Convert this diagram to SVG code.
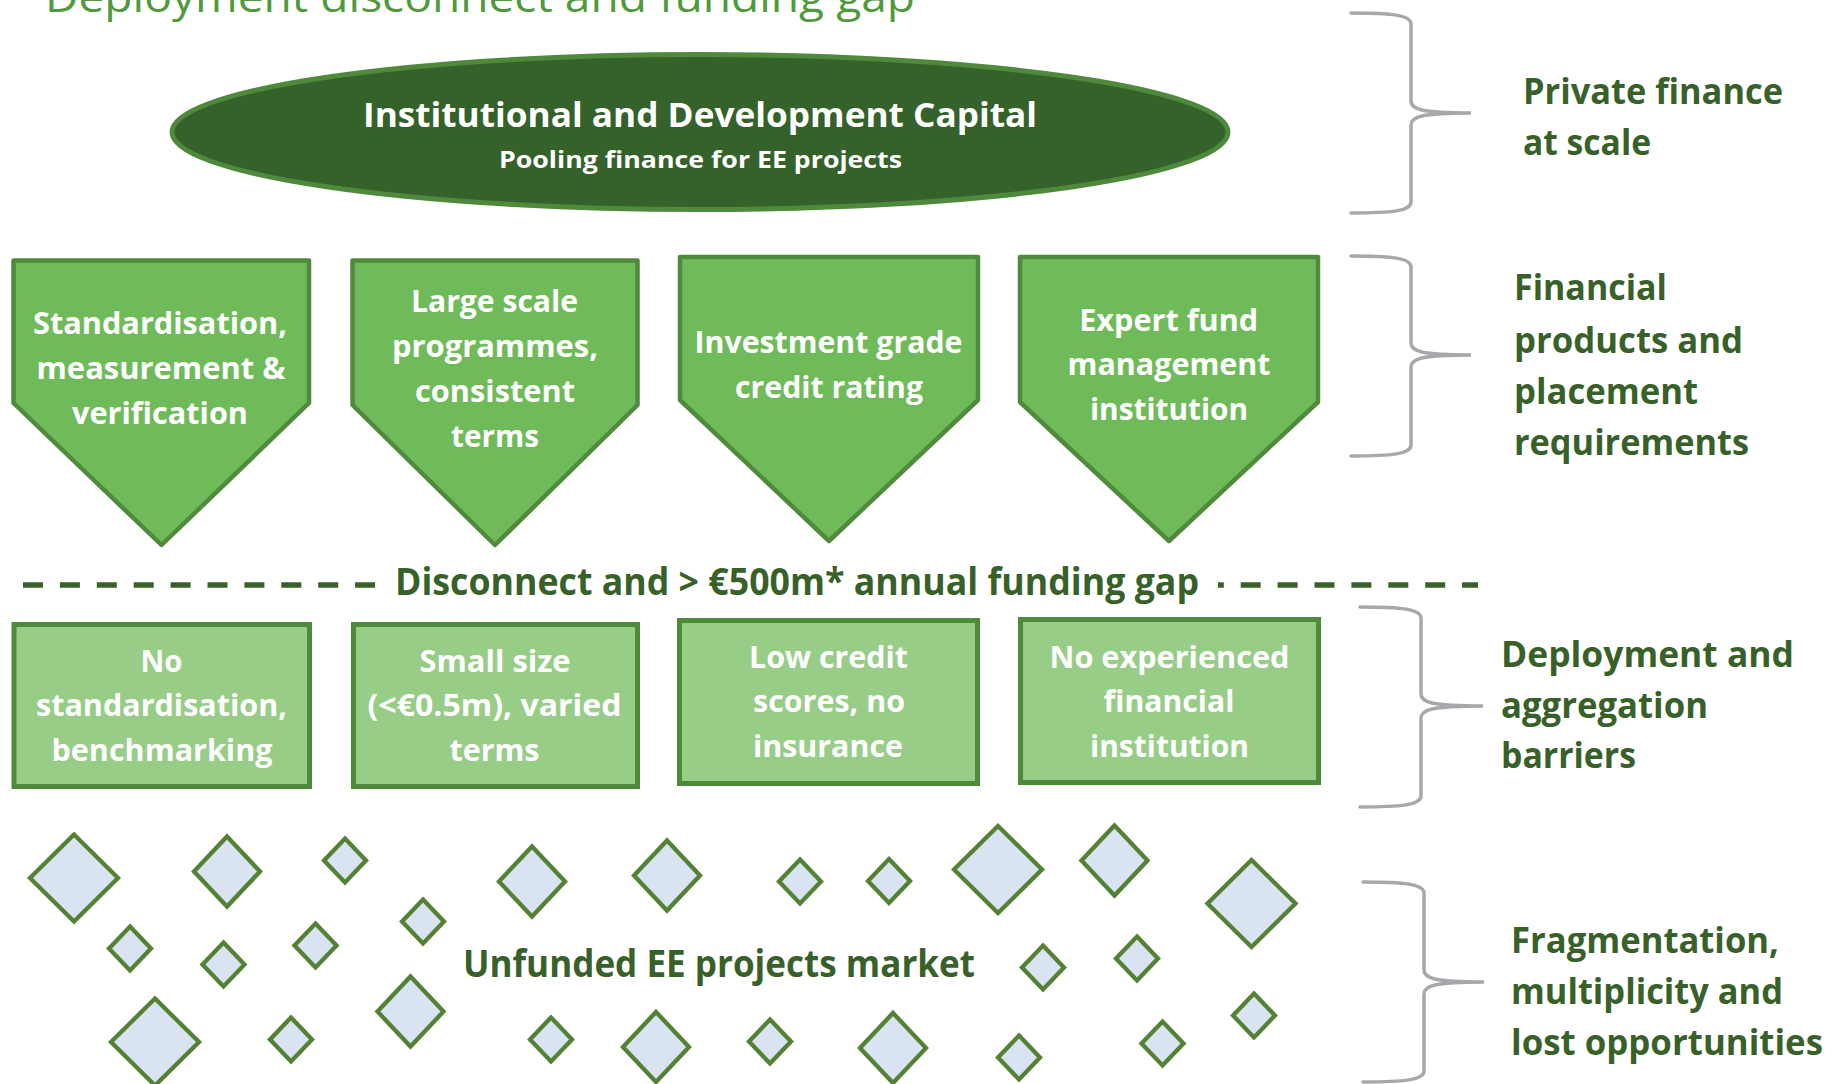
<svg xmlns="http://www.w3.org/2000/svg" xmlns:xlink="http://www.w3.org/1999/xlink" width="1837" height="1084" viewBox="0 0 1837 1084">
  <style>
    .f { font-family: "Open Sans", "Liberation Sans", sans-serif; }
    .title { font-size: 42px; font-weight: 400; fill: #4f9a3c; }
    .cap-t { font-size: 33.5px; font-weight: 700; fill: #ffffff; text-anchor: middle; }
    .cap-s { font-size: 24px; font-weight: 700; fill: #ffffff; text-anchor: middle; }
    .wt { font-size: 31px; font-weight: 700; fill: #ffffff; text-anchor: middle; }
    .dk { font-size: 37px; font-weight: 700; fill: #386129; }
    .lbl { font-size: 35px; font-weight: 700; fill: #386129; }
    .ellipse { fill: #35612a; stroke: #4f8a3c; stroke-width: 5; }
    .pent { fill: #6fbb5a; stroke: #508a3c; stroke-width: 4.5; stroke-linejoin: round; }
    .box { fill: #97cd87; stroke: #4f8a3b; stroke-width: 5; }
    .dia { fill: #dae3f1; stroke: #548235; stroke-width: 4.3; }
    .brace { fill: none; stroke: #a8a8ac; stroke-width: 3.5; stroke-linecap: round; }
    .dash { stroke: #386129; stroke-width: 5.5; stroke-dasharray: 20 16.9; }
  </style>
  <defs>
    <path id="dBig" d="M0,-43.5 L44,0 L0,43.5 L-44,0 Z"/>
    <path id="dMed" d="M0,-35 L33,0 L0,35 L-33,0 Z"/>
    <path id="dSm" d="M0,-22 L21,0 L0,22 L-21,0 Z"/>
  </defs>

  <rect width="1837" height="1084" fill="#ffffff"/>

  <!-- heading, cut by the top edge -->
  <g id="title">
    <text class="f title" x="45" y="12" textLength="870" lengthAdjust="spacingAndGlyphs">Deployment disconnect and funding gap</text>
  </g>

  <!-- capital pool -->
  <g id="node-capital">
    <ellipse class="ellipse" cx="700" cy="132" rx="528" ry="77.5"/>
    <text class="f cap-t" x="700" y="126.5" textLength="674" lengthAdjust="spacingAndGlyphs">Institutional and Development Capital</text>
    <text class="f cap-s" x="700.5" y="167.5" textLength="403" lengthAdjust="spacingAndGlyphs">Pooling finance for EE projects</text>
  </g>

  <!-- requirements (down-pointing pentagons) -->
  <g id="node-req-1">
    <path class="pent" d="M13.5,260.5 H309 V403 L161.5,545 L13.5,403 Z"/>
    <text class="f wt" x="160" y="334" textLength="254" lengthAdjust="spacingAndGlyphs">Standardisation,</text>
    <text class="f wt" x="161" y="379" textLength="249" lengthAdjust="spacingAndGlyphs">measurement &amp;</text>
    <text class="f wt" x="160" y="424" textLength="176" lengthAdjust="spacingAndGlyphs">verification</text>
  </g>
  <g id="node-req-2">
    <path class="pent" d="M352.5,260.5 H637.5 V405 L495,545 L352.5,405 Z"/>
    <text class="f wt" x="494.5" y="312" textLength="167" lengthAdjust="spacingAndGlyphs">Large scale</text>
    <text class="f wt" x="495" y="357" textLength="206" lengthAdjust="spacingAndGlyphs">programmes,</text>
    <text class="f wt" x="495" y="402" textLength="160" lengthAdjust="spacingAndGlyphs">consistent</text>
    <text class="f wt" x="495" y="447" textLength="88" lengthAdjust="spacingAndGlyphs">terms</text>
  </g>
  <g id="node-req-3">
    <path class="pent" d="M680,257 H978 V400 L829,541 L680,400 Z"/>
    <text class="f wt" x="828.5" y="353" textLength="268" lengthAdjust="spacingAndGlyphs">Investment grade</text>
    <text class="f wt" x="829" y="398" textLength="188" lengthAdjust="spacingAndGlyphs">credit rating</text>
  </g>
  <g id="node-req-4">
    <path class="pent" d="M1020,257 H1318 V402 L1169,541 L1020,402 Z"/>
    <text class="f wt" x="1168.7" y="330.5" textLength="179" lengthAdjust="spacingAndGlyphs">Expert fund</text>
    <text class="f wt" x="1169" y="375" textLength="203" lengthAdjust="spacingAndGlyphs">management</text>
    <text class="f wt" x="1169" y="420" textLength="158" lengthAdjust="spacingAndGlyphs">institution</text>
  </g>

  <!-- funding gap separator -->
  <g id="gap-line">
    <line class="dash" x1="23" y1="585" x2="1478" y2="585"/>
    <rect x="380" y="562" width="838" height="46" fill="#ffffff"/>
    <text class="f dk" x="395" y="595" textLength="804" lengthAdjust="spacingAndGlyphs">Disconnect and &gt; €500m* annual funding gap</text>
  </g>

  <!-- barriers -->
  <g id="node-barrier-1">
    <rect class="box" x="14" y="624.5" width="295.5" height="162"/>
    <text class="f wt" x="161.5" y="671.5" textLength="42" lengthAdjust="spacingAndGlyphs">No</text>
    <text class="f wt" x="161.5" y="716" textLength="251" lengthAdjust="spacingAndGlyphs">standardisation,</text>
    <text class="f wt" x="162" y="760.5" textLength="221" lengthAdjust="spacingAndGlyphs">benchmarking</text>
  </g>
  <g id="node-barrier-2">
    <rect class="box" x="353.5" y="624.5" width="284" height="162"/>
    <text class="f wt" x="495" y="671.5" textLength="151" lengthAdjust="spacingAndGlyphs">Small size</text>
    <text class="f wt" x="494.5" y="716" textLength="254" lengthAdjust="spacingAndGlyphs">(&lt;€0.5m), varied</text>
    <text class="f wt" x="494.5" y="760.5" textLength="90" lengthAdjust="spacingAndGlyphs">terms</text>
  </g>
  <g id="node-barrier-3">
    <rect class="box" x="679.5" y="620.5" width="298" height="163"/>
    <text class="f wt" x="828.5" y="667.5" textLength="159" lengthAdjust="spacingAndGlyphs">Low credit</text>
    <text class="f wt" x="829" y="712" textLength="152" lengthAdjust="spacingAndGlyphs">scores, no</text>
    <text class="f wt" x="828" y="756.5" textLength="150" lengthAdjust="spacingAndGlyphs">insurance</text>
  </g>
  <g id="node-barrier-4">
    <rect class="box" x="1020.5" y="619.5" width="298" height="163"/>
    <text class="f wt" x="1169.5" y="667.5" textLength="240" lengthAdjust="spacingAndGlyphs">No experienced</text>
    <text class="f wt" x="1169" y="712" textLength="131" lengthAdjust="spacingAndGlyphs">financial</text>
    <text class="f wt" x="1169.5" y="756.5" textLength="159" lengthAdjust="spacingAndGlyphs">institution</text>
  </g>

  <!-- scattered project market -->
  <g id="node-market">
    <use href="#dBig" class="dia" x="74" y="878"/>
    <use href="#dMed" class="dia" x="227" y="871.5"/>
    <use href="#dSm" class="dia" x="345" y="860.5"/>
    <use href="#dSm" class="dia" x="130" y="948.5"/>
    <use href="#dSm" class="dia" x="223.5" y="964.5"/>
    <use href="#dSm" class="dia" x="315.5" y="945.5"/>
    <use href="#dSm" class="dia" x="423" y="921.5"/>
    <use href="#dBig" class="dia" x="155" y="1042"/>
    <use href="#dSm" class="dia" x="291" y="1039.5"/>
    <use href="#dMed" class="dia" x="410.5" y="1011.5"/>
    <use href="#dMed" class="dia" x="532" y="881.5"/>
    <use href="#dMed" class="dia" x="667" y="875.5"/>
    <use href="#dSm" class="dia" x="800" y="881.5"/>
    <use href="#dSm" class="dia" x="889" y="881"/>
    <use href="#dSm" class="dia" x="551" y="1039.5"/>
    <use href="#dMed" class="dia" x="656" y="1047"/>
    <use href="#dSm" class="dia" x="770" y="1041.5"/>
    <use href="#dMed" class="dia" x="893" y="1048"/>
    <use href="#dBig" class="dia" x="998" y="869.5"/>
    <use href="#dMed" class="dia" x="1114.5" y="860.5"/>
    <use href="#dBig" class="dia" x="1251.5" y="903.5"/>
    <use href="#dSm" class="dia" x="1043" y="967.5"/>
    <use href="#dSm" class="dia" x="1137" y="958.5"/>
    <use href="#dSm" class="dia" x="1254" y="1015.5"/>
    <use href="#dSm" class="dia" x="1019" y="1057.5"/>
    <use href="#dSm" class="dia" x="1162.5" y="1043.5"/>
    <text class="f dk" x="463" y="977" textLength="512" lengthAdjust="spacingAndGlyphs">Unfunded EE projects market</text>
  </g>

  <!-- braces grouping each tier -->
  <g id="braces">
    <path class="brace" d="M1351,13 C1392,13 1411,15 1411,24 V101 C1411,109 1420,113 1471,113 C1420,113 1411,117 1411,125 V202 C1411,211 1392,213 1351,213"/>
    <path class="brace" d="M1351,256 C1392,256 1411,258 1411,267 V343 C1411,351 1420,355 1471,355 C1420,355 1411,359 1411,367 V445 C1411,454 1392,456 1351,456"/>
    <path class="brace" d="M1360,607 C1401,607 1421,609 1421,618 V694 C1421,702 1430,706 1483,706 C1430,706 1421,710 1421,718 V796 C1421,805 1401,807 1360,807"/>
    <path class="brace" d="M1363,882 C1404,882 1424,884 1424,893 V970 C1424,978 1433,982 1484,982 C1433,982 1424,986 1424,994 V1071 C1424,1080 1404,1082 1363,1082"/>
  </g>

  <!-- tier labels -->
  <g id="label-private">
    <text class="f lbl" x="1523" y="104" textLength="260" lengthAdjust="spacingAndGlyphs">Private finance</text>
    <text class="f lbl" x="1523" y="155" textLength="128" lengthAdjust="spacingAndGlyphs">at scale</text>
  </g>
  <g id="label-products">
    <text class="f lbl" x="1514" y="300" textLength="153" lengthAdjust="spacingAndGlyphs">Financial</text>
    <text class="f lbl" x="1514" y="353" textLength="229" lengthAdjust="spacingAndGlyphs">products and</text>
    <text class="f lbl" x="1514" y="404" textLength="184" lengthAdjust="spacingAndGlyphs">placement</text>
    <text class="f lbl" x="1514" y="455" textLength="235" lengthAdjust="spacingAndGlyphs">requirements</text>
  </g>
  <g id="label-deployment">
    <text class="f lbl" x="1501" y="667" textLength="293" lengthAdjust="spacingAndGlyphs">Deployment and</text>
    <text class="f lbl" x="1501" y="718" textLength="207" lengthAdjust="spacingAndGlyphs">aggregation</text>
    <text class="f lbl" x="1501" y="768" textLength="135" lengthAdjust="spacingAndGlyphs">barriers</text>
  </g>
  <g id="label-fragmentation">
    <text class="f lbl" x="1511" y="953" textLength="268" lengthAdjust="spacingAndGlyphs">Fragmentation,</text>
    <text class="f lbl" x="1511" y="1004" textLength="272" lengthAdjust="spacingAndGlyphs">multiplicity and</text>
    <text class="f lbl" x="1511" y="1055" textLength="312" lengthAdjust="spacingAndGlyphs">lost opportunities</text>
  </g>
</svg>
